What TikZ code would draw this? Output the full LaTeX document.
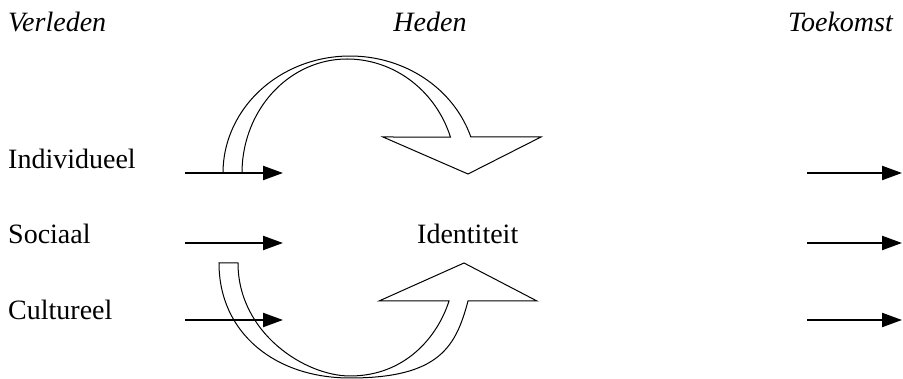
\documentclass[tikz,border=0pt]{standalone}
\usepackage{fontspec}
\setmainfont{Liberation Serif}
\usetikzlibrary{arrows.meta}
\begin{document}
\begin{tikzpicture}[x=1pt,y=-1pt,
  txt/.style={inner sep=0pt, font=\fontsize{28}{30}\selectfont},
  period/.style={txt, font=\fontsize{28}{30}\selectfont\itshape},
  flow/.style={line width=2.2pt, -{Triangle[length=20pt,width=14pt]}},
  band/.style={draw=black, line width=1pt, fill=white, line join=miter}]
\useasboundingbox (0,0) rectangle (903,379);

% time headings
\node[period, anchor=base west] (verleden) at (8,32) {Verleden};
\node[period, anchor=base] (heden) at (430,32) {Heden};
\node[period, anchor=base east] (toekomst) at (893,32) {Toekomst};

% dimensions and the centre term
\node[txt, anchor=base west] (ind) at (8,169) {Individueel};
\node[txt, anchor=base west] (soc) at (8,244) {Sociaal};
\node[txt, anchor=base west] (cul) at (8,320) {Cultureel};
\node[txt, anchor=base west] (id) at (417,244) {Identiteit};

% upper bent arrow: outer and inner edges are elliptic arcs
\filldraw[band]
  plot[domain=180:18, samples=80, variable=\t]
    ({350+127*cos(\t)},{173-117*sin(\t)})
  -- (541,137) -- (468,174) -- (383,137)
  -- plot[domain=18.4:90, samples=40, variable=\t]
    ({347+109*cos(\t)},{173-114*sin(\t)})
  -- plot[domain=90:180, samples=40, variable=\t]
    ({347+105*cos(\t)},{173-114*sin(\t)})
  -- cycle;

% lower bent arrow
\filldraw[band]
  (219,263) .. controls (219,333) and (275,378) .. (350,378)
            .. controls (440,378) and (456,346) .. (468,301)
  -- (537,301) -- (464,263) -- (379,301) -- (449,301)
            .. controls (437.5,337) and (405,376) .. (350,376)
            .. controls (305,376) and (238,333) .. (238,263)
  -- cycle;

% arrow end points
\coordinate (ind-s) at (185,173);  \coordinate (ind-e) at (283,173);
\coordinate (soc-s) at (185,243);  \coordinate (soc-e) at (283,243);
\coordinate (cul-s) at (185,320);  \coordinate (cul-e) at (283,320);
\coordinate (ind-fs) at (807,173); \coordinate (ind-fe) at (902,173);
\coordinate (soc-fs) at (807,243); \coordinate (soc-fe) at (902,243);
\coordinate (cul-fs) at (807,320); \coordinate (cul-fe) at (902,320);

% straight arrows
\draw[flow] (ind-s) -- (ind-e);
\draw[flow] (soc-s) -- (soc-e);
\draw[flow] (cul-s) -- (cul-e);
\draw[flow] (ind-fs) -- (ind-fe);
\draw[flow] (soc-fs) -- (soc-fe);
\draw[flow] (cul-fs) -- (cul-fe);
\end{tikzpicture}
\end{document}
